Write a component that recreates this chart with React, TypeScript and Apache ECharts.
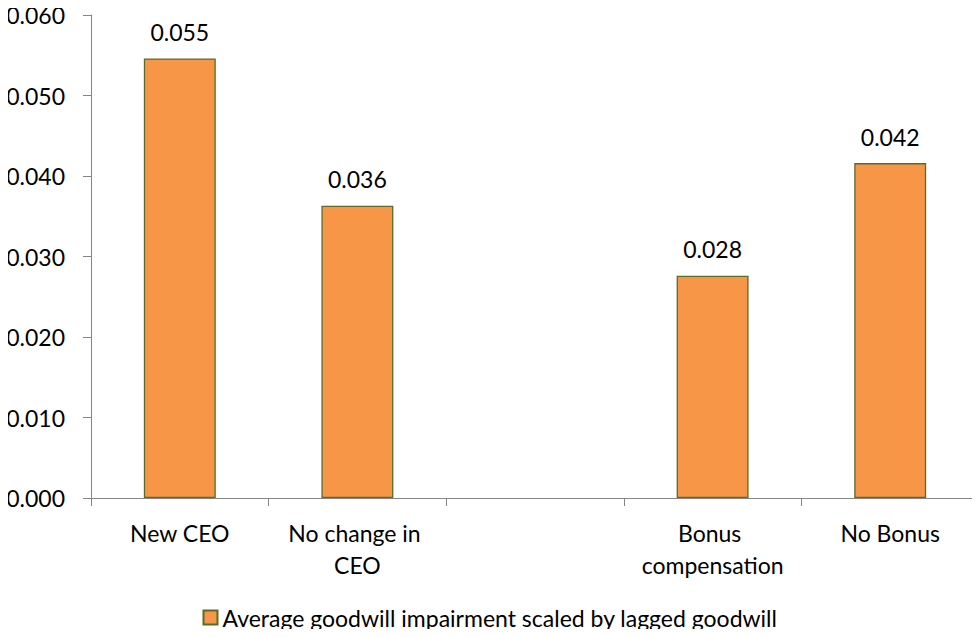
import React, { useEffect, useRef } from "react";
import * as echarts from "echarts";

const categories = ["New CEO", "No change in CEO", "", "Bonus compensation", "No Bonus"];
const values: (number | null)[] = [0.0546, 0.0363, null, 0.0276, 0.0416];
const seriesName = "Average goodwill impairment scaled by lagged goodwill";
const yMin = 0;
const yMax = 0.06;
const yInterval = 0.01;

const FONT = "Lato, 'Open Sans', sans-serif";
const FS = 23;

export default function App() {
  const ref = useRef<HTMLDivElement>(null);
  useEffect(() => {
    if (!ref.current) return;
    const chart = echarts.init(ref.current, null, { renderer: "svg" });
    chart.setOption({
      animation: false,
      textStyle: { fontFamily: FONT },
      grid: { left: 91, right: 1, top: 15, bottom: 139, containLabel: false },
      legend: {
        top: 606,
        left: "center",
        padding: [0, 5],
        icon: "rect",
        itemWidth: 14,
        itemHeight: 14,
        itemGap: 6,
        textStyle: { fontFamily: FONT, fontSize: FS, color: "#000" },
        data: [seriesName],
      },
      xAxis: {
        type: "category",
        data: categories,
        boundaryGap: true,
        axisLine: { lineStyle: { color: "#868686", width: 1 } },
        axisTick: { show: true, length: 8, lineStyle: { color: "#868686" }, alignWithLabel: false },
        axisLabel: {
          color: "#000",
          fontFamily: FONT,
          fontSize: FS,
          margin: 19,
          lineHeight: 32,
          width: 160,
          overflow: "break",
          interval: 0,
        },
      },
      yAxis: {
        type: "value",
        min: yMin,
        max: yMax,
        interval: yInterval,
        splitLine: { show: false },
        axisLine: { show: true, lineStyle: { color: "#868686", width: 1 } },
        axisTick: { show: true, length: 8, lineStyle: { color: "#868686" } },
        axisLabel: {
          color: "#000",
          fontFamily: FONT,
          fontSize: FS,
          margin: 26,
          formatter: (v: number) => v.toFixed(3),
        },
      },
      series: [
        {
          name: seriesName,
          type: "bar",
          data: values,
          barWidth: "40.5%",
          itemStyle: { color: "#F79646", borderColor: "#5A6B2C", borderWidth: 1.3 },
          label: {
            show: true,
            position: "top",
            distance: 15,
            color: "#000",
            fontFamily: FONT,
            fontSize: FS,
            formatter: (p: any) => (p.value == null ? "" : Number(p.value).toFixed(3)),
          },
        },
      ],
    });
    return () => chart.dispose();
  }, []);
  return <div ref={ref} style={{ width: 980, height: 637, margin: -8, background: "#fff" }} />;
}
